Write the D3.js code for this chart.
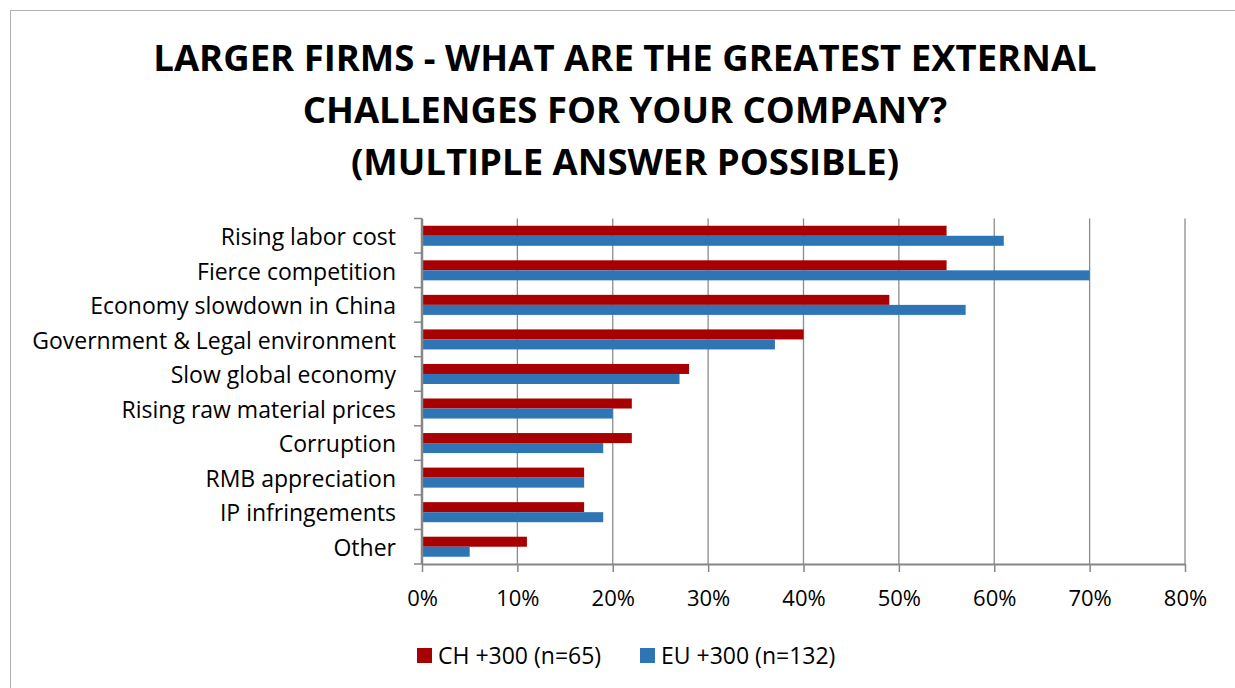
<!DOCTYPE html>
<html>
<head>
<meta charset="utf-8">
<script src="https://cdn.jsdelivr.net/npm/d3@7"></script>
<style>
  body { margin: 0; background: #fff; }
  svg { display: block; font-family: "Open Sans", "Noto Sans", sans-serif; }
</style>
</head>
<body>
<div id="chart"></div>
<script>
// data
const categories = ["Rising labor cost", "Fierce competition", "Economy slowdown in China",
    "Government & Legal environment", "Slow global economy", "Rising raw material prices",
    "Corruption", "RMB appreciation", "IP infringements", "Other"];
const seriesNames = ["CH +300 (n=65)", "EU +300 (n=132)"];
const chValues = [55, 55, 49, 40, 28, 22, 22, 17, 17, 11];
const euValues = [61, 70, 57, 37, 27, 20, 19, 17, 19, 5];
const xTicks = [0, 10, 20, 30, 40, 50, 60, 70, 80];
const titleLines = ["LARGER FIRMS - WHAT ARE THE GREATEST EXTERNAL",
    "CHALLENGES FOR YOUR COMPANY?", "(MULTIPLE ANSWER POSSIBLE)"];

const colors = ["#A80000", "#2E75B6"];
const W = 1235, H = 688;

const svg = d3.select("#chart").append("svg")
    .attr("width", W)
    .attr("height", H);

// chart border
svg.append("rect")
    .attr("x", 10.5).attr("y", 10.5)
    .attr("width", W + 20).attr("height", H + 20)
    .attr("fill", "none")
    .attr("stroke", "#b0b0b0")
    .attr("stroke-width", 1);

// title
svg.append("g").selectAll("text")
    .data(titleLines)
    .enter().append("text")
    .attr("x", 625)
    .attr("y", (d, i) => 71 + i * 52)
    .attr("text-anchor", "middle")
    .attr("font-size", 36.5)
    .attr("font-weight", "bold")
    .attr("fill", "#000")
    .text(d => d);

// scales
const plotL = 422, plotR = 1185, plotT = 218.5, plotB = 564;
const x = d3.scaleLinear().domain([0, 80]).range([plotL, plotR]);
const y = d3.scaleBand().domain(categories).range([plotT, plotB]).paddingInner(0.42).paddingOuter(0.21);
const ySub = d3.scaleBand().domain([0, 1]).range([0, y.bandwidth()]);

// gridlines
svg.append("g").selectAll("line")
    .data(xTicks.slice(1))
    .enter().append("line")
    .attr("x1", d => x(d)).attr("x2", d => x(d))
    .attr("y1", plotT).attr("y2", plotB)
    .attr("stroke", "#8c8c8c")
    .attr("stroke-width", 1.3);

// bars
const rows = categories.map((c, i) => ({ cat: c, vals: [chValues[i], euValues[i]] }));
const group = svg.append("g").selectAll("g")
    .data(rows)
    .enter().append("g")
    .attr("transform", d => `translate(0,${y(d.cat)})`);

group.selectAll("rect")
    .data(d => d.vals)
    .enter().append("rect")
    .attr("x", x(0))
    .attr("y", (d, i) => ySub(i))
    .attr("width", d => x(d) - x(0))
    .attr("height", ySub.bandwidth())
    .attr("fill", (d, i) => colors[i]);

// x axis
const xAxis = svg.append("g")
    .attr("transform", `translate(0,${plotB})`)
    .call(d3.axisBottom(x).tickValues(xTicks).tickFormat(d => d + "%").tickSize(8).tickSizeOuter(0));
xAxis.select(".domain").attr("stroke", "#868686").attr("stroke-width", 2);
xAxis.selectAll(".tick line").attr("stroke", "#868686").attr("stroke-width", 1.5);
xAxis.selectAll(".tick text")
    .attr("y", 26)
    .attr("font-size", 22)
    .attr("font-family", "Open Sans, sans-serif")
    .attr("fill", "#000");

// y axis (category ticks sit on band boundaries)
const yAxis = svg.append("g").attr("transform", `translate(${plotL},0)`);
yAxis.append("line")
    .attr("x1", 0).attr("x2", 0)
    .attr("y1", plotT).attr("y2", plotB)
    .attr("stroke", "#868686").attr("stroke-width", 2.5);
const step = y.step();
yAxis.selectAll(".cattick")
    .data(d3.range(categories.length + 1))
    .enter().append("line")
    .attr("x1", -8).attr("x2", 0)
    .attr("y1", i => plotT + i * step).attr("y2", i => plotT + i * step)
    .attr("stroke", "#868686").attr("stroke-width", 1.5);
yAxis.selectAll("text")
    .data(categories)
    .enter().append("text")
    .attr("x", -26)
    .attr("y", d => y(d) + y.bandwidth() / 2 + 1)
    .attr("dy", "0.36em")
    .attr("text-anchor", "end")
    .attr("font-size", 23)
    .attr("fill", "#000")
    .text(d => d);

// legend
const legend = svg.append("g").selectAll("g")
    .data(seriesNames)
    .enter().append("g")
    .attr("transform", (d, i) => `translate(${i === 0 ? 417 : 640},648)`);
legend.append("rect")
    .attr("width", 15).attr("height", 15)
    .attr("fill", (d, i) => colors[i]);
legend.append("text")
    .attr("x", 21).attr("y", 8)
    .attr("dy", "0.36em")
    .attr("font-size", 23)
    .attr("fill", "#000")
    .text(d => d);
</script>
</body>
</html>
